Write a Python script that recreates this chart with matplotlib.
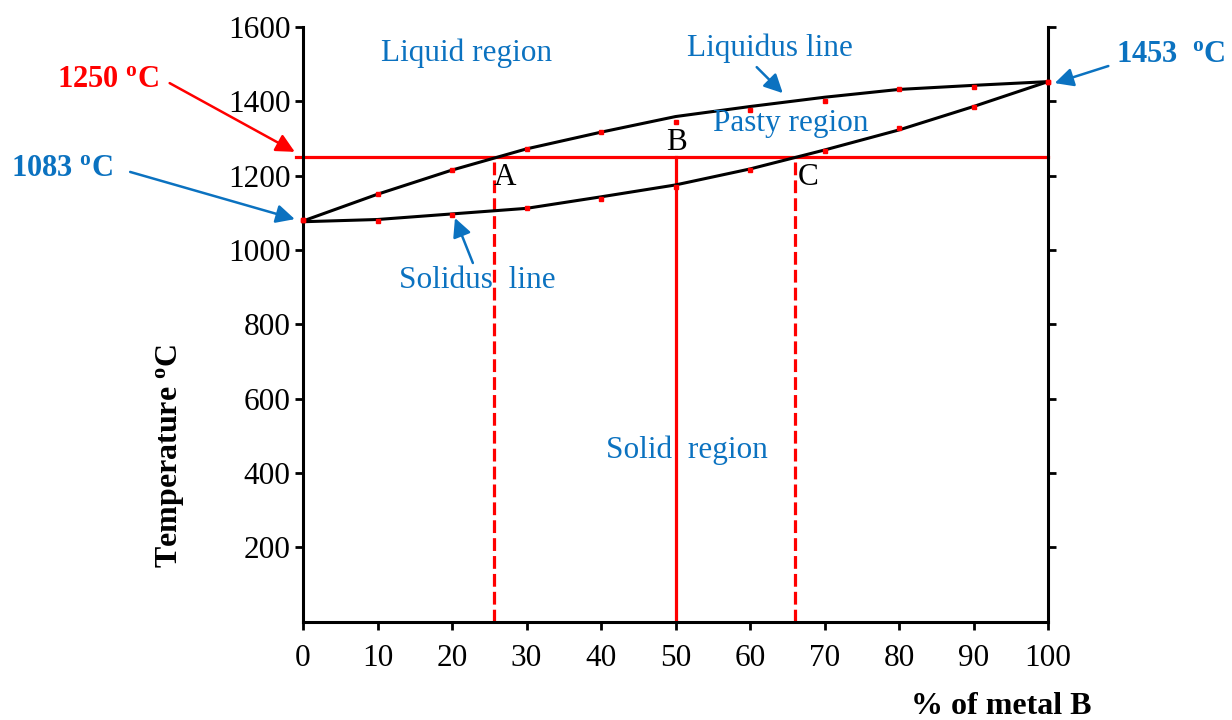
import matplotlib
matplotlib.use("Agg")
import matplotlib.pyplot as plt
from matplotlib.patches import FancyArrowPatch

plt.rcParams['font.family'] = ['Liberation Serif', 'DejaVu Serif']
plt.rcParams['mathtext.fontset'] = 'custom'
plt.rcParams['mathtext.rm'] = 'Liberation Serif'
plt.rcParams['mathtext.it'] = 'Liberation Serif:italic'
plt.rcParams['mathtext.bf'] = 'Liberation Serif:bold'

# ---- data ----
composition = [0, 10, 20, 30, 40, 50, 60, 70, 80, 90, 100]
liquidus_line = [1078, 1150, 1215, 1272, 1317, 1359, 1386, 1411, 1432, 1443, 1453]
solidus_line = [1076, 1082, 1097, 1112, 1143, 1175, 1218, 1269, 1323, 1386, 1453]
liquidus_dots = [1080, 1150, 1215, 1272, 1317, 1344, 1377, 1402, 1432, 1438, 1453]
solidus_dots = [1080, 1079, 1094, 1112, 1136, 1170, 1215, 1266, 1327, 1386, 1453]
isotherm_T = 1250
point_A_x = 25.7
point_B_x = 50
point_C_x = 66
x_ticks = [0, 10, 20, 30, 40, 50, 60, 70, 80, 90, 100]
y_ticks = [200, 400, 600, 800, 1000, 1200, 1400, 1600]

BLUE = '#0B72C0'
RED = '#FF0000'

fig = plt.figure(figsize=(12.32, 7.2), dpi=100)
ax = fig.add_axes([303/1232, 1 - 621.6/720, (1048-303)/1232, (621.6-27)/720])
ax.set_xlim(0, 100)
ax.set_ylim(0, 1600)

for s in ['left', 'bottom', 'right']:
    ax.spines[s].set_linewidth(2.2)
ax.spines['top'].set_visible(False)
ax.set_xticks(x_ticks)
ax.set_yticks(y_ticks)
ax.tick_params(axis='both', direction='out', length=6, width=2, labelsize=22.5)
ax.tick_params(axis='x', pad=10)
ax.tick_params(axis='y', pad=3, right=True, labelright=False)

# curves
ax.plot(composition, liquidus_line, color='black', lw=2.2, zorder=3, clip_on=False)
ax.plot(composition, solidus_line, color='black', lw=2.2, zorder=3, clip_on=False)
ax.plot(composition, liquidus_dots, ls='none', marker='s', ms=2.6, color=RED, zorder=4, clip_on=False)
ax.plot(composition, solidus_dots, ls='none', marker='s', ms=2.6, color=RED, zorder=4, clip_on=False)

# isotherm and verticals
ax.plot([-0.9, 100], [isotherm_T, isotherm_T], color=RED, lw=2.3, zorder=2, clip_on=False)
ax.plot([point_A_x, point_A_x], [0, isotherm_T], color=RED, lw=2.3, ls=(0, (4, 1.6)), zorder=2)
ax.plot([point_B_x, point_B_x], [0, isotherm_T], color=RED, lw=2.3, zorder=2)
ax.plot([point_C_x, point_C_x], [0, isotherm_T], color=RED, lw=2.3, ls=(0, (4, 1.6)), zorder=2)

# labels inside
fs = 22.5
ax.text(27.1, 1194, 'A', fontsize=fs, ha='center', va='center', color='black')
ax.text(50.2, 1290, 'B', fontsize=fs, ha='center', va='center', color='black')
ax.text(67.8, 1194, 'C', fontsize=fs, ha='center', va='center', color='black')
ax.text(22.0, 1530, 'Liquid region', fontsize=fs, ha='center', va='center', color=BLUE)
ax.text(62.7, 1544, 'Liquidus line', fontsize=fs, ha='center', va='center', color=BLUE)
ax.text(65.5, 1339, 'Pasty region', fontsize=fs, ha='center', va='center', color=BLUE)
ax.text(23.4, 919, 'Solidus  line', fontsize=fs, ha='center', va='center', color=BLUE)
ax.text(51.5, 462, 'Solid  region', fontsize=fs, ha='center', va='center', color=BLUE)

# outside labels
ax.text(-26.2, 1458, r'1250 $^{\mathbf{o}}$C', fontsize=22, fontweight='bold', ha='center',
        va='center', color=RED, clip_on=False)
ax.text(-32.3, 1220, r'1083 $^{\mathbf{o}}$C', fontsize=22, fontweight='bold', ha='center',
        va='center', color=BLUE, clip_on=False)
ax.text(116.5, 1525, r'1453  $^{\mathbf{o}}$C', fontsize=22, fontweight='bold', ha='center',
        va='center', color=BLUE, clip_on=False)

fig.text(170/1232, 1 - 456/720, r'Temperature $^{\mathbf{o}}$C', fontsize=23, fontweight='bold',
         rotation=90, ha='center', va='center')
fig.text(1001/1232, 1 - 707/720, '% of metal B', fontsize=23, fontweight='bold',
         ha='center', va='center')

# arrows
def arrow(x0, y0, x1, y1, color):
    a = FancyArrowPatch((x0, y0), (x1, y1), arrowstyle='-|>', mutation_scale=28,
                        color=color, lw=1.8, shrinkA=0, shrinkB=0, clip_on=False, zorder=5)
    ax.add_patch(a)

arrow(-17.9, 1449, -1.1, 1264, RED)
arrow(-23.2, 1210, -1.1, 1083, BLUE)
arrow(108.1, 1495, 100.9, 1449, BLUE)
arrow(60.9, 1492, 64.4, 1422, BLUE)
arrow(22.8, 965, 20.4, 1086, BLUE)

fig.savefig('out.png', dpi=100)
